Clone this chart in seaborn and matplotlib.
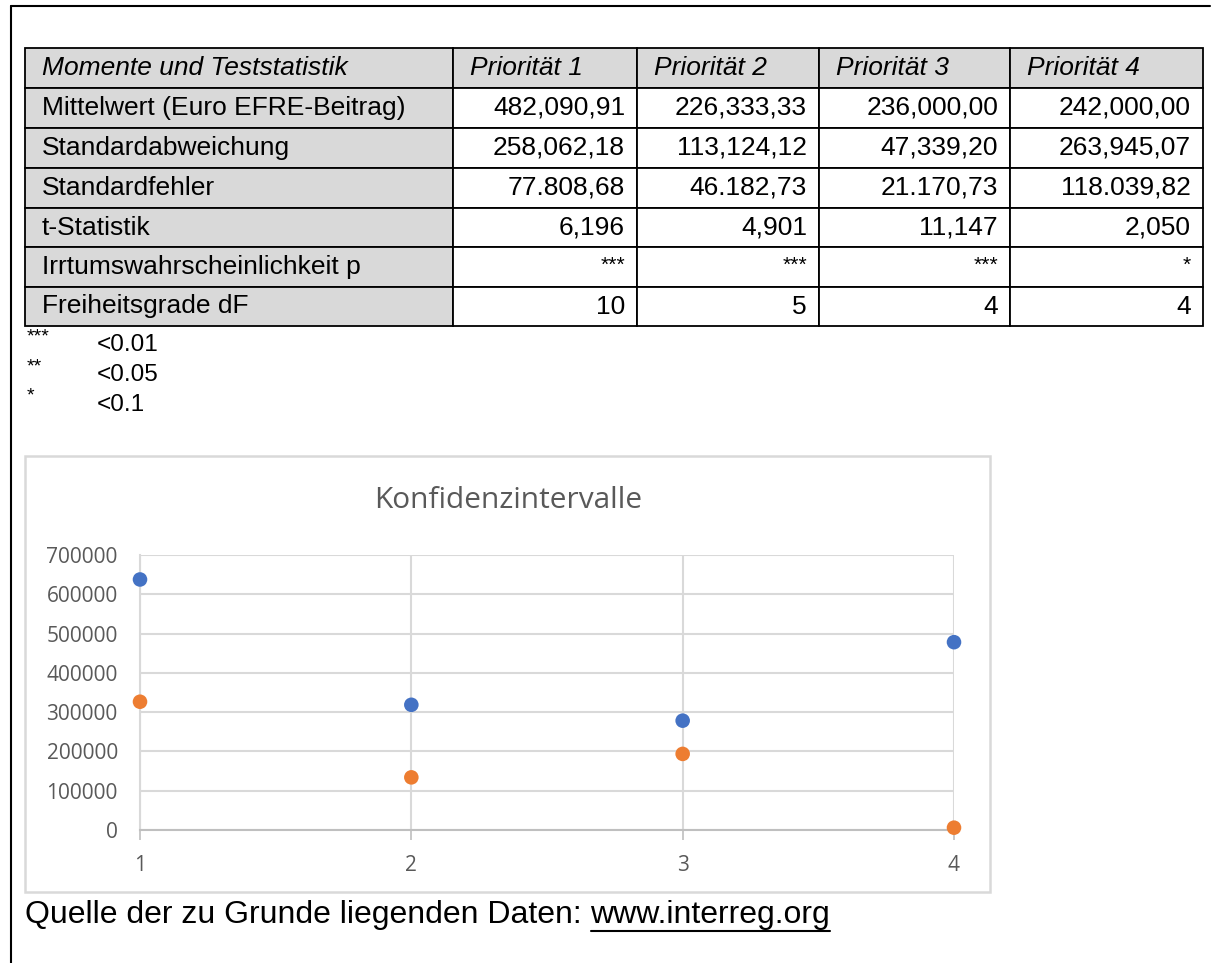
import matplotlib
matplotlib.use("Agg")
import matplotlib.pyplot as plt
import seaborn as sns
import pandas as pd
import numpy as np
from matplotlib.patches import Rectangle
from matplotlib.lines import Line2D

#%% Data %%#
#================================#
col_headers = ["Momente und Teststatistik", "Priorität 1", "Priorität 2", "Priorität 3", "Priorität 4"]
row_labels = ["Mittelwert (Euro EFRE-Beitrag)", "Standardabweichung", "Standardfehler",
              "t-Statistik", "Irrtumswahrscheinlichkeit p", "Freiheitsgrade dF"]
mittelwert = ["482,090,91", "226,333,33", "236,000,00", "242,000,00"]
std_abw = ["258,062,18", "113,124,12", "47,339,20", "263,945,07"]
std_fehler = ["77.808,68", "46.182,73", "21.170,73", "118.039,82"]
t_stat = ["6,196", "4,901", "11,147", "2,050"]
p_sig = ["***", "***", "***", "*"]
df_frei = ["10", "5", "4", "4"]
sig_marks = ["***", "**", "*"]
sig_levels = ["<0.01", "<0.05", "<0.1"]

prioritaet = [1, 2, 3, 4]
obere_grenze = [637700, 318700, 278300, 478100]
untere_grenze = [326500, 134000, 193700, 5900]
y_ticks = [0, 100000, 200000, 300000, 400000, 500000, 600000, 700000]

#%% Figure setup %%#
#================================#
W, H = 1215, 963
sns.set_theme(style="white")
plt.rcParams['font.family'] = ['Liberation Sans', 'DejaVu Sans']
plt.rcParams['text.color'] = 'black'
fig = plt.figure(figsize=(W / 100, H / 100), dpi=100)

def fx(x):
    return x / W

def fy(y):
    return 1 - y / H

#---- Outer frame (left + top only) ----#
fig.add_artist(Line2D([fx(11), fx(11)], [fy(6), fy(H)], color='black', lw=1.5))
fig.add_artist(Line2D([fx(11), fx(1210)], [fy(6), fy(6)], color='black', lw=1.5))

#---- Table ----#
col_x = [25, 453, 637, 819, 1010, 1203]
row_y = [48, 88, 128, 168, 208, 247, 287, 326]
gray = '#d9d9d9'
rows = [mittelwert, std_abw, std_fehler, t_stat, p_sig, df_frei]
fs_tab = 19

for r in range(len(row_y) - 1):
    y0, y1 = row_y[r], row_y[r + 1]
    for c in range(len(col_x) - 1):
        x0, x1 = col_x[c], col_x[c + 1]
        face = gray if (r == 0 or c == 0) else 'white'
        fig.add_artist(Rectangle((fx(x0), fy(y1)), fx(x1 - x0), (y1 - y0) / H,
                                 facecolor=face, edgecolor='black', lw=1.3))
        yc = fy((y0 + y1) / 2)
        if r == 0:
            fig.text(fx(x0 + 17), yc, col_headers[c], fontsize=fs_tab, style='italic',
                     ha='left', va='center')
        elif c == 0:
            fig.text(fx(x0 + 17), yc, row_labels[r - 1], fontsize=fs_tab, ha='left', va='center')
        else:
            val = rows[r - 1][c - 1]
            if r == 5:
                fig.text(fx(x1 - 12), fy(y0 + 18), val, fontsize=fs_tab * 0.8, ha='right', va='center')
            else:
                fig.text(fx(x1 - 12), yc, val, fontsize=fs_tab, ha='right', va='center')

#---- Footnotes ----#
for i, (m, lvl) in enumerate(zip(sig_marks, sig_levels)):
    fig.text(fx(27), fy(337 + i * 29.5), m, fontsize=14, ha='left', va='center')
    fig.text(fx(97), fy(345 + i * 30), lvl, fontsize=17.5, ha='left', va='center')

#---- Chart box ----#
fig.add_artist(Rectangle((fx(25), fy(892)), fx(990 - 25), (892 - 456) / H,
                         facecolor='white', edgecolor=gray, lw=1.8, zorder=-1))
fig.text(fx(508), fy(501), "Konfidenzintervalle", fontsize=21.5, color='#595959',
         ha='center', va='center', family=['Open Sans', 'DejaVu Sans'])

#%% Scatter plot %%#
#================================#
plot_df = pd.DataFrame({
    'Priorität': prioritaet * 2,
    'Wert': obere_grenze + untere_grenze,
    'Serie': ['Obere Grenze'] * 4 + ['Untere Grenze'] * 4,
})
ax = fig.add_axes([fx(140), fy(830), fx(954 - 140), (830 - 555) / H])
ax.patch.set_alpha(0)
sns.scatterplot(data=plot_df, x='Priorität', y='Wert', hue='Serie',
                palette=['#4472C4', '#ED7D31'], s=110, linewidth=0,
                legend=False, ax=ax, clip_on=False, zorder=5)
ax.set_xlim(1, 4)
ax.set_ylim(0, 700000)
ax.set_xticks(prioritaet)
ax.set_yticks(y_ticks)
ax.set_yticklabels([str(v) for v in y_ticks])
ax.set_xlabel('')
ax.set_ylabel('')
ax.grid(True, axis='both', color=gray, lw=1.5)
ax.set_axisbelow(True)
for s in ['top', 'right']:
    ax.spines[s].set_visible(False)
ax.spines['left'].set_color(gray)
ax.spines['left'].set_linewidth(1.5)
ax.spines['bottom'].set_color('#bfbfbf')
ax.spines['bottom'].set_linewidth(1.5)
ax.tick_params(axis='x', bottom=True, length=7, width=1.2, color='#bfbfbf',
               labelsize=15, labelcolor='#595959', pad=11)
ax.tick_params(axis='y', left=False, labelsize=15, labelcolor='#595959', pad=10)
for lab in ax.get_xticklabels() + ax.get_yticklabels():
    lab.set_family(['Open Sans', 'DejaVu Sans'])

#---- Source line ----#
t1 = fig.text(fx(25), fy(915), "Quelle der zu Grunde liegenden Daten: ", fontsize=23,
              ha='left', va='center')
renderer = fig.canvas.get_renderer()
bb = t1.get_window_extent(renderer)
url_x = bb.x1 / W
t2 = fig.text(url_x, fy(915), "www.interreg.org", fontsize=23, ha='left', va='center')
bb2 = t2.get_window_extent(renderer)
fig.add_artist(Line2D([url_x, bb2.x1 / W], [fy(931), fy(931)], color='black', lw=1.5))

fig.savefig('out.png', dpi=100)
